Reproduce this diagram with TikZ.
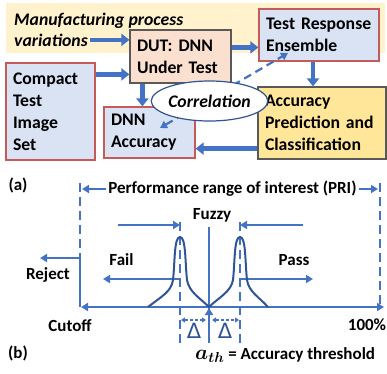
\documentclass[tikz,border=0pt]{standalone}
\usepackage{fontspec}
\usepackage{bm}
\setmainfont{Carlito}
\newfontfamily\dejavu{DejaVu Sans}
\usetikzlibrary{arrows.meta,shapes.geometric}

\definecolor{paleblue}{HTML}{DAE3F3}
\definecolor{palesalmon}{HTML}{FBE0D0}
\definecolor{paleyellow}{HTML}{FFF2CC}
\definecolor{softgold}{HTML}{FFE699}
\definecolor{lineblue}{HTML}{4472C4}
\definecolor{curveblue}{HTML}{2F5597}
\definecolor{boxred}{HTML}{C55A5A}
\definecolor{boxgray}{HTML}{595959}

\newcommand{\bigtxt}{\bfseries\fontsize{17.7}{22}\selectfont}
\newcommand{\smalltxt}{\bfseries\fontsize{17}{20}\selectfont}

\tikzset{
  box/.style={draw=boxred,fill=paleblue,line width=1.2pt,align=left,inner xsep=7pt,inner ysep=0pt,font=\bigtxt,execute at begin node={\hyphenpenalty=10000}},
  fat/.style={draw=lineblue,line width=4.5pt,-{Triangle[length=8pt,width=12pt]}},
  axis/.style={draw=lineblue,line width=2.4pt},
  dashline/.style={axis,dash pattern=on 9pt off 5pt},
  tip/.style={-{Triangle[length=7pt,width=8pt]}},
  peak/.style={draw=curveblue,line width=2pt},
  lbl/.style={font=\smalltxt,inner sep=0pt},
  gap/.style={draw=lineblue,line width=1.3pt,dash pattern=on 3pt off 2pt,{Triangle[length=4pt,width=5pt]}-{Triangle[length=4pt,width=5pt]}},
  delta/.style={font=\dejavu\fontsize{21}{21}\selectfont,text=curveblue,inner sep=0pt},
}

\begin{document}
\begin{tikzpicture}[x=1pt,y=-1pt]
  \useasboundingbox (0,0) rectangle (387,373);
  \fill[paleyellow] (6,3) rectangle (385,53);
  \node[anchor=base west,inner sep=0pt,font=\bigtxt\itshape] (mpv) at (14,25) {Manufacturing process};
  \node[anchor=base west,inner sep=0pt,font=\bigtxt\itshape] (var) at (14,46) {variations};

  \node[box,fill=palesalmon,draw=boxgray,text width=87pt,minimum height=53pt] (dut) at (180.5,56.5) {DUT: DNN\\Under Test};
  \node[box,text width=106pt,minimum height=52pt] (tre) at (319,35) {Test Response\\Ensemble};
  \node[box,text width=75pt,minimum height=97pt] (cti) at (50.5,111.5) {Compact\\Test\\Image\\Set};
  \node[box,text width=77pt,minimum height=51pt] (dnn) at (149.5,132.5) {DNN\\Accuracy};
  \node[box,fill=softgold,draw=boxgray,text width=114pt,minimum height=72pt] (apc) at (322,123) {Accuracy\\Prediction and\\Classification};

  \coordinate (p) at (160,128);
  \coordinate (q) at (288,53);
  \draw[draw=lineblue,line width=2.2pt,dash pattern=on 8pt off 5pt,{Triangle[length=7pt,width=8pt]}-{Triangle[length=7pt,width=8pt]}] (p) -- (q);
  \node[ellipse,draw=curveblue,fill=white,line width=1.2pt,minimum width=100pt,minimum height=40pt,inner sep=0pt,font=\bigtxt\itshape] (cor) at (209.5,101) {Correlation};

  \draw[fat] ([xshift=2pt]var.east) -- (var.east -| dut.west);
  \draw[fat] ([yshift=-12pt]cti.north east) -- ([yshift=-12pt]cti.north east -| dut.west);
  \draw[fat] ([yshift=-18pt]dut.north east) -- ([yshift=-18pt]dut.north east -| tre.west);
  \draw[fat] ([xshift=13pt]dut.south west) -- ([xshift=13pt]dut.south west |- dnn.north);
  \draw[fat] ([xshift=-6pt]tre.south) -- ([xshift=-6pt]tre.south |- apc.north);
  \draw[fat] ([yshift=11pt]apc.south west) -- ([yshift=11pt]apc.south west -| dnn.east);

  \node[lbl] (a) at (18,185) {(a)};
  \node[lbl] (b) at (18,353) {(b)};
  \node[lbl] (pri) at (232.5,189) {Performance range of interest (PRI)};
  \draw[dashline] (80,183) -- (80,258);
  \draw[axis] (80,258) -- (80,307);
  \draw[dashline] (380,183) -- (380,309);
  \draw[axis,tip] ([xshift=-2pt]pri.west) -- (82,189);
  \draw[axis,tip] ([xshift=2pt]pri.east) -- (378,189);
  \draw[axis,{Triangle[length=7pt,width=8pt]}-{Triangle[length=7pt,width=8pt]}] (81,307) -- (384,307);
  \draw[axis,tip] (80,258) -- (40,258);
  \node[lbl] (rej) at (48,275) {Reject};
  \node[lbl] (cut) at (70,326) {Cutoff};
  \node[lbl] (full) at (367,325) {100\%};
  \node[lbl] (fuz) at (212,215) {Fuzzy};
  \node[lbl] (fail) at (121.5,260) {Fail};
  \node[lbl] (pass) at (294,260) {Pass};

  \draw[dashline] (180,222) -- (180,345);
  \draw[dashline] (240,222) -- (240,345);
  \draw[axis] (209,227) -- (209,343);
  \draw[axis,tip] (209,330) -- (209,308);
  \draw[axis,tip] (118,225) -- (180,225);
  \draw[axis,tip] (303,225) -- (240,225);
  \draw[axis,tip] (180,279) -- (103,279);
  \draw[axis,tip] (240,279) -- (313,279);

  \draw[peak] (148,307) .. controls (162,296) and (171,292) .. (173,280) .. controls (175,262) and (174,237) .. (180,237) .. controls (186,237) and (185,262) .. (187,280) .. controls (189,292) and (200,298) .. (209,307);
  \draw[peak] (209,307) .. controls (218,298) and (231,292) .. (233,280) .. controls (235,262) and (234,237) .. (240,237) .. controls (246,237) and (245,262) .. (247,280) .. controls (249,292) and (258,296) .. (268,307);

  \draw[gap] (181,320) -- (206,320);
  \draw[gap] (212,320) -- (239,320);
  \node[delta] (d1) at (194,331) {Δ};
  \node[delta] (d2) at (225,331) {Δ};
  \node[lbl,anchor=west] (ath) at (195,355) {\fontsize{20}{20}\selectfont$\bm{a_{th}}$\smalltxt{} = Accuracy threshold};
\end{tikzpicture}
\end{document}
